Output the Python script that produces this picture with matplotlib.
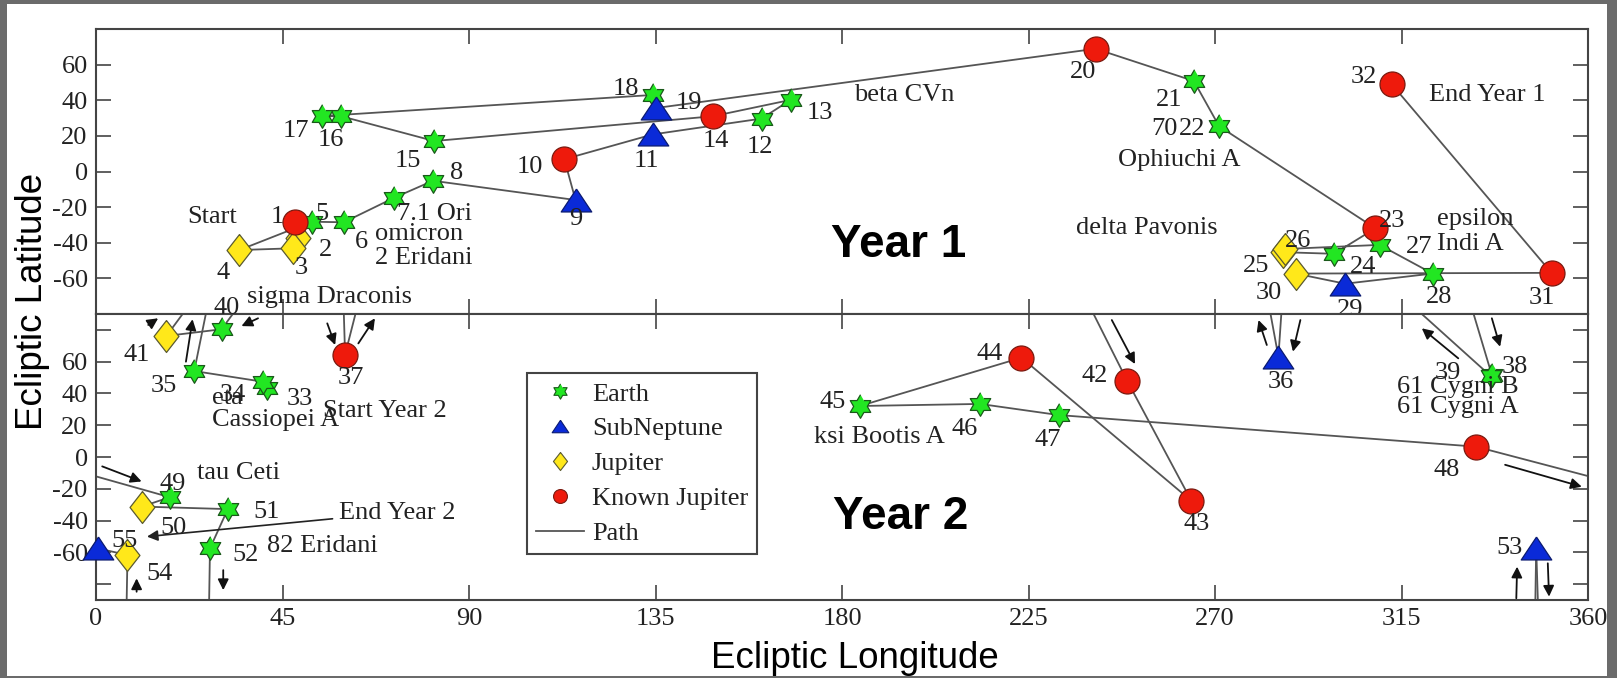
import numpy as np
import matplotlib
matplotlib.use("Agg")
import matplotlib.pyplot as plt
from matplotlib.lines import Line2D
from matplotlib.patches import Rectangle

plt.rcParams['font.family'] = ['Liberation Serif', 'DejaVu Serif']

# E = Earth, S = SubNeptune, J = Jupiter, K = Known Jupiter
# rok 1: body 1..32
year1_lon = [48.0, 48.8, 47.6, 34.6, 52.0, 59.8, 71.8, 81.3, 115.7, 113.0,
             134.3, 160.6, 167.6, 148.8, 81.6, 59.2, 54.5, 134.5, 135.0, 241.2,
             264.9, 271.0, 308.7, 298.7, 286.4, 287.0, 309.7, 322.5, 301.4, 289.5,
             351.2, 312.6]
year1_lat = [-28.2, -37.5, -43.1, -44.1, -28.2, -28.5, -14.9, -5.2, -16.0, 6.9,
             20.8, 29.7, 40.2, 31.0, 17.1, 31.0, 31.1, 43.0, 35.6, 68.9,
             50.8, 25.4, -31.9, -46.2, -45.3, -43.5, -41.2, -57.3, -63.0, -57.3,
             -56.9, 49.1]
year1_kind = "KJJJEEEESKSEEKEEEESKEEKEJJEESJKK"

# rok 2: body 33..55
year2_lon = [41.2, 40.2, 23.7, 285.3, 60.1, 336.8, 336.5, 30.3, 17.0, 248.8,
             264.3, 223.3, 184.3, 213.3, 232.3, 333.0, 17.8, 11.1, 31.8, 27.5,
             347.5, 7.6, 0.4]
year2_lat = [43.2, 47.4, 54.1, 63.1, 64.4, 51.6, 51.0, 80.4, 76.2, 48.0,
             -27.6, 62.5, 32.1, 33.4, 26.4, 6.5, -25.3, -31.2, -32.8, -57.5,
             -57.5, -61.7, -57.5]
year2_kind = "EEESKEEEJKKKEEEKEJEESJS"

# prechody pres pol / okraj mapy (cislo bodu, odkud se odchazi)
cross_from = [35, 36, 37, 39, 41, 48, 52, 53]
cross_exit_lon = [26.5, 283.4, 62.6, 319.9, 20.9, 360.0, 27.3, 347.9]
cross_exit_lat = [90, 90, 90, 90, 90, -12.0, -90, -90]
cross_entry_lon = [286.0, 59.8, 332.4, 33.0, 240.7, 0.0, 347.3, 7.4]
cross_entry_lat = [90, 90, 90, 90, 90, -12.2, -90, -90]

# sipky smeru pohybu (rok 2)
arrow_tail_lon = [12.6, 21.7, 39.1, 55.8, 63.3, 282.5, 290.6, 245.1, 336.8, 328.7,
                  340.0, 1.5, 30.7, 9.8, 342.7, 350.3]
arrow_tail_lat = [83.1, 60.0, 87.3, 84.1, 71.5, 70.5, 86.2, 86.2, 87.3, 62.1,
                  -4.9, -5.9, -71.2, -84.8, -88.9, -66.9]
arrow_head_lon = [15.0, 23.3, 35.1, 57.7, 67.3, 280.5, 288.8, 250.7, 338.8, 319.9,
                  358.5, 11.0, 30.7, 9.8, 342.9, 350.6]
arrow_head_lat = [87.3, 86.7, 82.4, 70.5, 87.3, 86.2, 66.3, 58.5, 69.4, 81.0,
                  -18.7, -15.4, -83.8, -76.4, -69.0, -87.9]

# popisky hvezd
names1 = ["Start", "omicron\n2 Eridani", "sigma Draconis", "beta CVn", "70",
          "Ophiuchi A", "delta Pavonis", "End Year 1", "epsilon\nIndi A"]
names1_lon = [27.9, 67.2, 56.4, 194.9, 257.9, 261.4, 253.5, 335.6, 323.6]
names1_lat = [-25.3, -41.8, -70.5, 43.0, 23.6, 6.4, -31.9, 43.0, -33.6]
names2 = ["eta\nCassiopei A", "Start Year 2", "tau Ceti", "82 Eridani",
          "ksi Bootis A", "61 Cygni B", "61 Cygni A"]
names2_lon = [27.9, 69.8, 34.4, 54.7, 188.9, 328.7, 328.7]
names2_lat = [30.1, 28.8, -10.1, -56.0, 12.8, 44.3, 31.7]

# posun cisel bodu (pixely)
label_off = {1: (-18, 5), 2: (27, -12), 3: (8, -20), 4: (-16, -23), 5: (10, 8),
             6: (18, -20), 7: (41, -16), 8: (24, 8), 9: (0, -19), 10: (-34, -8),
             11: (-6, -27), 12: (-2, -28), 13: (29, -13), 14: (3, -25), 15: (-26, -20),
             16: (-10, -24), 17: (-26, -15), 18: (-28, 6), 19: (33, 5), 20: (-13, -23),
             21: (-25, -19), 22: (-27, -3), 23: (17, 7), 24: (29, -13), 25: (-27, -14),
             26: (13, 8), 27: (40, -2), 28: (7, -23), 29: (5, -26), 30: (-27, -19),
             31: (-10, -25), 32: (-28, 7), 33: (33, -11), 34: (-30, -13), 35: (-30, -15),
             36: (2, -25), 37: (6, -23), 38: (23, 8), 39: (-43, 3), 40: (5, 21),
             41: (-30, -19), 42: (-32, 5), 43: (5, -23), 44: (-32, 4), 45: (-27, 4),
             46: (-15, -25), 47: (-11, -25), 48: (-29, -23), 49: (3, 13), 50: (31, -21),
             51: (39, -3), 52: (36, -7), 53: (-27, 0), 54: (32, -19), 55: (27, 7)}

# tvary znacek
ang = np.pi / 2 + np.arange(12) * np.pi / 6
rad = np.where(np.arange(12) % 2 == 0, 1.0, 0.58)
hexagram = list(zip(rad * np.cos(ang), rad * np.sin(ang)))
diamond = [(0, 1), (0.78, 0), (0, -1), (-0.78, 0), (0, 1)]
triangle = [(0, 0.75), (1, -0.75), (-1, -0.75), (0, 0.75)]

styles = {
    'E': dict(marker=hexagram, ms=17, mfc='#22e622', mec='#1a5a1a', mew=0.9, zorder=4),
    'S': dict(marker=triangle, ms=22, mfc='#0a2ad8', mec='#0a1a70', mew=0.9, zorder=6),
    'J': dict(marker=diamond, ms=23, mfc='#ffe81a', mec='#5a5a30', mew=0.9, zorder=5),
    'K': dict(marker='o', ms=18, mfc='#ee1a0c', mec='#7a1a10', mew=0.9, zorder=7),
}
path_col = '#555555'
txt_col = '#222222'

fig = plt.figure(figsize=(16.17, 6.78), dpi=100, facecolor='#6b6b6b')
fig.patches.append(Rectangle((7 / 1617, 2 / 678), 1600 / 1617, 672 / 678,
                             transform=fig.transFigure, facecolor='white',
                             edgecolor='none', zorder=-5))

ax1 = fig.add_axes([96 / 1617, 1 - 314 / 678, 1492 / 1617, 285 / 678])
ax2 = fig.add_axes([96 / 1617, 1 - 600 / 678, 1492 / 1617, 286 / 678])


def style_axes(ax, ylim, yticks, ylabels, xlabels):
    ax.set_xlim(0, 360)
    ax.set_ylim(*ylim)
    ax.set_xticks(range(0, 361, 45))
    ax.set_yticks(yticks)
    ax.set_yticklabels(ylabels)
    if xlabels:
        ax.set_xticklabels([str(v) for v in range(0, 361, 45)])
    ax.tick_params(direction='in', length=11, width=1.2, top=True, right=True,
                   color='#444444', labelsize=19, labelcolor=txt_col,
                   labelbottom=xlabels, pad=6)
    for s in ax.spines.values():
        s.set_color('#444444')
        s.set_linewidth(1.5)


style_axes(ax1, (-80, 80), range(-60, 61, 20), [str(v) for v in range(-60, 61, 20)], False)
style_axes(ax2, (-90, 90), range(-80, 81, 20),
           [''] + [str(v) for v in range(-60, 61, 20)] + [''], True)


def draw_points(ax, lons, lats, kinds, first):
    for k, st in styles.items():
        xs = [lo for lo, kk in zip(lons, kinds) if kk == k]
        ys = [la for la, kk in zip(lats, kinds) if kk == k]
        ax.plot(xs, ys, ls='none', clip_on=False, **st)
    for i, (lo, la) in enumerate(zip(lons, lats)):
        n = first + i
        txt = "7.1 Ori" if n == 7 else str(n)
        ax.annotate(txt, (lo, la), xytext=label_off[n], textcoords='offset pixels',
                    ha='center', va='center', fontsize=19, color=txt_col, zorder=8)


# rok 1 - cesta
ax1.plot(year1_lon, year1_lat, color=path_col, lw=1.3, zorder=2)
draw_points(ax1, year1_lon, year1_lat, year1_kind, 1)

# rok 2 - cesta s prechody
for i in range(len(year2_lon) - 1):
    n = 33 + i
    if n in cross_from:
        c = cross_from.index(n)
        ax2.plot([year2_lon[i], cross_exit_lon[c]], [year2_lat[i], cross_exit_lat[c]],
                 color=path_col, lw=1.3, zorder=2)
        ax2.plot([cross_entry_lon[c], year2_lon[i + 1]], [cross_entry_lat[c], year2_lat[i + 1]],
                 color=path_col, lw=1.3, zorder=2)
    else:
        ax2.plot(year2_lon[i:i + 2], year2_lat[i:i + 2], color=path_col, lw=1.3, zorder=2)
draw_points(ax2, year2_lon, year2_lat, year2_kind, 33)

for tx, ty, hx, hy in zip(arrow_tail_lon, arrow_tail_lat, arrow_head_lon, arrow_head_lat):
    ax2.annotate('', xy=(hx, hy), xytext=(tx, ty),
                 arrowprops=dict(arrowstyle='-|>', color='#111111', lw=1.3,
                                 mutation_scale=16, shrinkA=0, shrinkB=0))

for t, lo, la in zip(names1, names1_lon, names1_lat):
    ha = 'left' if '\n' in t else 'center'
    ax1.text(lo, la, t, ha=ha, va='center', fontsize=19, color=txt_col,
             linespacing=1.15, zorder=8)
for t, lo, la in zip(names2, names2_lon, names2_lat):
    ha = 'left' if '\n' in t else 'center'
    ax2.text(lo, la, t, ha=ha, va='center', fontsize=19, color=txt_col,
             linespacing=1.0, zorder=8)

ax2.annotate('End Year 2', xy=(12.3, -50.1), xytext=(72.8, -35), ha='center', va='center',
             fontsize=19, color=txt_col,
             arrowprops=dict(arrowstyle='-|>', color='#222222', lw=1.2, mutation_scale=16,
                             shrinkA=3, shrinkB=0, relpos=(0, 0.25)))

ax1.text(193.7, -41.2, 'Year 1', ha='center', va='center', fontsize=33,
         fontweight='bold', family=['Liberation Sans', 'DejaVu Sans'])
ax2.text(194.1, -37.6, 'Year 2', ha='center', va='center', fontsize=33,
         fontweight='bold', family=['Liberation Sans', 'DejaVu Sans'])

# legenda
handles = [Line2D([], [], ls='none', marker=hexagram, ms=11, mfc='#22e622', mec='#1a5a1a', mew=0.8),
           Line2D([], [], ls='none', marker=triangle, ms=12, mfc='#0a2ad8', mec='#0a1a70', mew=0.8),
           Line2D([], [], ls='none', marker=diamond, ms=13, mfc='#ffe81a', mec='#5a5a30', mew=0.8),
           Line2D([], [], ls='none', marker='o', ms=10, mfc='#ee1a0c', mec='#7a1a10', mew=0.8),
           Line2D([], [], color=path_col, lw=1.3)]
leg = ax2.legend(handles, ['Earth', 'SubNeptune', 'Jupiter', 'Known Jupiter', 'Path'],
                 loc='upper left', bbox_to_anchor=(0.289, 0.794), borderaxespad=0,
                 fontsize=19, frameon=True, fancybox=False, framealpha=1,
                 edgecolor='#444444', handlelength=1.8, handletextpad=0.3,
                 labelspacing=0.43, borderpad=0.35)
leg.get_frame().set_linewidth(1.5)
for t in leg.get_texts():
    t.set_color(txt_col)

fig.text(33 / 1617, 1 - 301 / 678, 'Ecliptic Latitude', rotation=90, ha='center',
         va='center', fontsize=26.5, family=['Liberation Sans', 'DejaVu Sans'])
fig.text(855 / 1617, 1 - 659 / 678, 'Ecliptic Longitude', ha='center', va='center',
         fontsize=26.5, family=['Liberation Sans', 'DejaVu Sans'])

fig.savefig('out.png', dpi=100, facecolor=fig.get_facecolor())
